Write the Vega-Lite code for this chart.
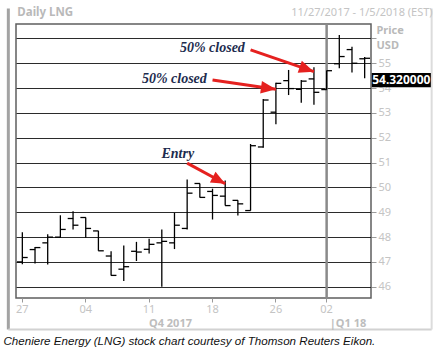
{
  "$schema": "https://vega.github.io/schema/vega-lite/v6.json",
  "width": 355,
  "height": 274,
  "autosize": {"type": "none"},
  "padding": {"left": 16, "top": 24, "right": 65, "bottom": 55},
  "background": "white",
  "config": {"view": {"stroke": "#5f5f5f", "strokeWidth": 1.5}, "font": "Noto Sans"},
  "datasets": {
    "ohlc": [
      {"date": "2017-11-27", "open": 47.00, "high": 48.20, "low": 46.91, "close": 47.18},
      {"date": "2017-11-28", "open": 47.50, "high": 47.60, "low": 46.94, "close": 47.58},
      {"date": "2017-11-29", "open": 47.77, "high": 48.12, "low": 46.90, "close": 48.00},
      {"date": "2017-11-30", "open": 48.00, "high": 48.88, "low": 47.98, "close": 48.31},
      {"date": "2017-12-01", "open": 48.75, "high": 49.04, "low": 48.31, "close": 48.48},
      {"date": "2017-12-04", "open": 48.79, "high": 48.79, "low": 47.98, "close": 48.35},
      {"date": "2017-12-05", "open": 48.25, "high": 48.25, "low": 47.45, "close": 47.45},
      {"date": "2017-12-06", "open": 47.24, "high": 47.43, "low": 46.46, "close": 46.46},
      {"date": "2017-12-07", "open": 46.71, "high": 47.66, "low": 46.23, "close": 46.81},
      {"date": "2017-12-08", "open": 47.43, "high": 47.81, "low": 47.04, "close": 47.40},
      {"date": "2017-12-11", "open": 47.51, "high": 47.94, "low": 47.34, "close": 47.71},
      {"date": "2017-12-12", "open": 47.77, "high": 48.31, "low": 46.00, "close": 47.83},
      {"date": "2017-12-13", "open": 47.77, "high": 48.98, "low": 47.52, "close": 48.48},
      {"date": "2017-12-14", "open": 48.35, "high": 50.32, "low": 48.31, "close": 49.77},
      {"date": "2017-12-15", "open": 50.16, "high": 50.16, "low": 49.60, "close": 49.60},
      {"date": "2017-12-18", "open": 49.84, "high": 49.95, "low": 48.71, "close": 49.68},
      {"date": "2017-12-19", "open": 49.65, "high": 50.28, "low": 49.27, "close": 49.27},
      {"date": "2017-12-20", "open": 49.48, "high": 49.48, "low": 48.87, "close": 49.34},
      {"date": "2017-12-21", "open": 49.07, "high": 51.75, "low": 49.07, "close": 51.68},
      {"date": "2017-12-22", "open": 51.63, "high": 53.56, "low": 51.60, "close": 53.52},
      {"date": "2017-12-26", "open": 53.03, "high": 54.22, "low": 52.54, "close": 54.19},
      {"date": "2017-12-27", "open": 54.30, "high": 54.73, "low": 53.72, "close": 53.98},
      {"date": "2017-12-28", "open": 53.95, "high": 54.33, "low": 53.41, "close": 54.28},
      {"date": "2017-12-29", "open": 54.37, "high": 54.84, "low": 53.33, "close": 53.83},
      {"date": "2018-01-02", "open": 53.94, "high": 54.70, "low": 53.94, "close": 54.70},
      {"date": "2018-01-03", "open": 54.98, "high": 56.14, "low": 54.80, "close": 55.27},
      {"date": "2018-01-04", "open": 55.55, "high": 55.66, "low": 54.63, "close": 55.00},
      {"date": "2018-01-05", "open": 55.18, "high": 55.25, "low": 54.40, "close": 55.20}
    ],
    "arrows": [
      {"id": "entry", "date": "2017-12-14", "price": 50.98, "date2": "2017-12-19", "price2": 50.15},
      {"id": "half1", "date": "2017-12-18", "price": 54.33, "date2": "2017-12-26", "price2": 53.95},
      {"id": "half2", "date": "2017-12-21", "price": 55.54, "date2": "2017-12-29", "price2": 54.66}
    ],
    "notes": [
      {"date": "2017-12-14", "price": 51.34, "text": "Entry"},
      {"date": "2017-12-15", "price": 54.37, "text": "50% closed"},
      {"date": "2017-12-20", "price": 55.62, "text": "50% closed"}
    ],
    "periods": [
      {"date": "2017-12-13", "price": 44.52, "text": "Q4 2017"},
      {"date": "2018-01-04", "price": 44.52, "text": "|Q1 18"}
    ],
    "range": [{"date": "2018-01-05", "price": 57.03, "text": "11/27/2017 - 1/5/2018 (EST)"}],
    "heading": [{"date": "2017-11-27", "price": 57.03, "text": "Daily LNG"}],
    "last": [{"date": "2018-01-05", "price": 54.32, "text": "54.320000"}],
    "boundary": [{"date": "2018-01-02"}],
    "frame": [{"date": "2017-11-27", "date2": "2018-01-05", "top": 57.2, "bottom": 44.28}]
  },
  "encoding": {
    "x": {
      "field": "date", "type": "ordinal",
      "scale": {"type": "band", "paddingInner": 0, "paddingOuter": 0},
      "axis": {
        "values": ["2017-11-27", "2017-12-04", "2017-12-11", "2017-12-18", "2017-12-26", "2018-01-02"],
        "labelExpr": "substring(datum.value, 8, 10)",
        "labelAngle": 0, "labelColor": "#c4c4c4", "labelFont": "Noto Sans", "labelFontSize": 11, "labelPadding": 1,
        "tickColor": "#9a9a9a", "tickSize": 4, "domain": false, "grid": false,
        "title": "Cheniere Energy (LNG) stock chart courtesy of Thomson Reuters Eikon.",
        "titleFont": "Liberation Sans", "titleFontStyle": "italic", "titleFontWeight": "normal", "titleFontSize": 11.6,
        "titleColor": "#111111", "titleAnchor": "start", "titleAlign": "left", "titleX": -13, "titleY": 43, "titleBaseline": "middle"
      }
    },
    "y": {
      "field": "low", "type": "quantitative",
      "scale": {"domain": [45.55, 56.58], "nice": false, "zero": false},
      "axis": {
        "orient": "right",
        "values": [46, 47, 48, 49, 50, 51, 52, 53, 54, 55, 56],
        "labelExpr": "datum.value == 56 ? '' : datum.label",
        "grid": true, "gridColor": "#2b2b2b", "gridWidth": 1, "gridOpacity": 1,
        "domain": false, "tickColor": "#9a9a9a", "tickSize": 5,
        "labelColor": "#c4c4c4", "labelFont": "Noto Sans", "labelFontSize": 11, "labelPadding": 2,
        "title": ["Price", "USD"], "titleAngle": 0, "titleAlign": "left", "titleBaseline": "middle",
        "titleX": 5, "titleY": 6, "titleColor": "#b9b9b9", "titleFont": "Noto Sans", "titleFontSize": 11,
        "titleFontWeight": "bold", "titleLineHeight": 15
      }
    }
  },
  "layer": [
    {
      "data": {"name": "frame"},
      "mark": {"type": "rule", "color": "#a3a3a3", "strokeWidth": 3, "xOffset": -14},
      "encoding": {"y": {"field": "top", "type": "quantitative"}, "y2": {"field": "bottom"}}
    },
    {
      "data": {"name": "frame"},
      "mark": {"type": "rule", "color": "#d2d2d2", "strokeWidth": 2, "xOffset": -14, "x2Offset": 67},
      "encoding": {"y": {"field": "bottom", "type": "quantitative"}, "x2": {"field": "date2"}}
    },
    {
      "data": {"name": "frame"},
      "mark": {"type": "rule", "color": "#dcdcdc", "strokeWidth": 2, "xOffset": 67},
      "encoding": {"x": {"field": "date2", "type": "ordinal"}, "y": {"field": "top", "type": "quantitative"}, "y2": {"field": "bottom"}}
    },
    {
      "data": {"name": "boundary"},
      "mark": {"type": "rule", "color": "#8a8a8a", "strokeWidth": 2.5},
      "encoding": {"y": null}
    },
    {
      "data": {"name": "ohlc"},
      "mark": {"type": "rule", "color": "black", "strokeWidth": 1.3},
      "encoding": {"y": {"field": "low", "type": "quantitative"}, "y2": {"field": "high"}}
    },
    {
      "data": {"name": "ohlc"},
      "mark": {"type": "tick", "orient": "horizontal", "xOffset": -2.6, "size": 5.5, "thickness": 1.3, "color": "black", "opacity": 1},
      "encoding": {"y": {"field": "open", "type": "quantitative"}}
    },
    {
      "data": {"name": "ohlc"},
      "mark": {"type": "tick", "orient": "horizontal", "xOffset": 2.6, "size": 5.5, "thickness": 1.3, "color": "black", "opacity": 1},
      "encoding": {"y": {"field": "close", "type": "quantitative"}}
    },
    {
      "data": {"name": "arrows"},
      "mark": {"type": "rule", "color": "#e5211f", "strokeWidth": 3},
      "encoding": {"y": {"field": "price", "type": "quantitative"}, "x2": {"field": "date2"}, "y2": {"field": "price2"}}
    },
    {
      "data": {"name": "arrows"},
      "transform": [{"filter": "datum.id == 'entry'"}],
      "mark": {"type": "point", "shape": "M0,0 L-2,-0.85 L-2,0.85 Z", "filled": true, "color": "#e5211f", "opacity": 1, "size": 200, "angle": 28},
      "encoding": {"x": {"field": "date2", "type": "ordinal"}, "y": {"field": "price2", "type": "quantitative"}}
    },
    {
      "data": {"name": "arrows"},
      "transform": [{"filter": "datum.id == 'half1'"}],
      "mark": {"type": "point", "shape": "M0,0 L-2,-0.85 L-2,0.85 Z", "filled": true, "color": "#e5211f", "opacity": 1, "size": 225, "angle": 8},
      "encoding": {"x": {"field": "date2", "type": "ordinal"}, "y": {"field": "price2", "type": "quantitative"}}
    },
    {
      "data": {"name": "arrows"},
      "transform": [{"filter": "datum.id == 'half2'"}],
      "mark": {"type": "point", "shape": "M0,0 L-2,-0.85 L-2,0.85 Z", "filled": true, "color": "#e5211f", "opacity": 1, "size": 225, "angle": 19},
      "encoding": {"x": {"field": "date2", "type": "ordinal"}, "y": {"field": "price2", "type": "quantitative"}}
    },
    {
      "data": {"name": "notes"},
      "mark": {"type": "text", "font": "Liberation Serif", "fontStyle": "italic", "fontWeight": "bold", "fontSize": 14, "color": "#1d2c4e", "align": "right", "baseline": "middle", "dx": 7},
      "encoding": {"y": {"field": "price", "type": "quantitative"}, "text": {"field": "text"}}
    },
    {
      "data": {"name": "periods"},
      "mark": {"type": "text", "font": "Noto Sans", "fontWeight": "bold", "fontSize": 11, "color": "#bdbdbd", "align": "center", "baseline": "middle", "dx": -4},
      "encoding": {"y": {"field": "price", "type": "quantitative"}, "text": {"field": "text"}}
    },
    {
      "data": {"name": "range"},
      "mark": {"type": "text", "font": "Noto Sans", "fontSize": 11, "color": "#c4c4c4", "align": "right", "baseline": "middle", "dx": 68},
      "encoding": {"y": {"field": "price", "type": "quantitative"}, "text": {"field": "text"}}
    },
    {
      "data": {"name": "heading"},
      "mark": {"type": "text", "font": "Noto Sans", "fontSize": 11.5, "fontWeight": "bold", "color": "#b9b9b9", "align": "left", "baseline": "middle", "dx": -5},
      "encoding": {"y": {"field": "price", "type": "quantitative"}, "text": {"field": "text"}}
    },
    {
      "data": {"name": "last"},
      "mark": {"type": "point", "shape": "M0.71,-0.72 L6.62,-0.72 L6.62,0.72 L0.71,0.72 Z", "filled": true, "color": "black", "opacity": 1, "size": 400},
      "encoding": {"y": {"field": "price", "type": "quantitative"}}
    },
    {
      "data": {"name": "last"},
      "mark": {"type": "text", "font": "Noto Sans", "fontWeight": "bold", "fontSize": 12, "color": "white", "align": "left", "baseline": "middle", "dx": 7.5},
      "encoding": {"y": {"field": "price", "type": "quantitative"}, "text": {"field": "text"}}
    }
  ]
}
